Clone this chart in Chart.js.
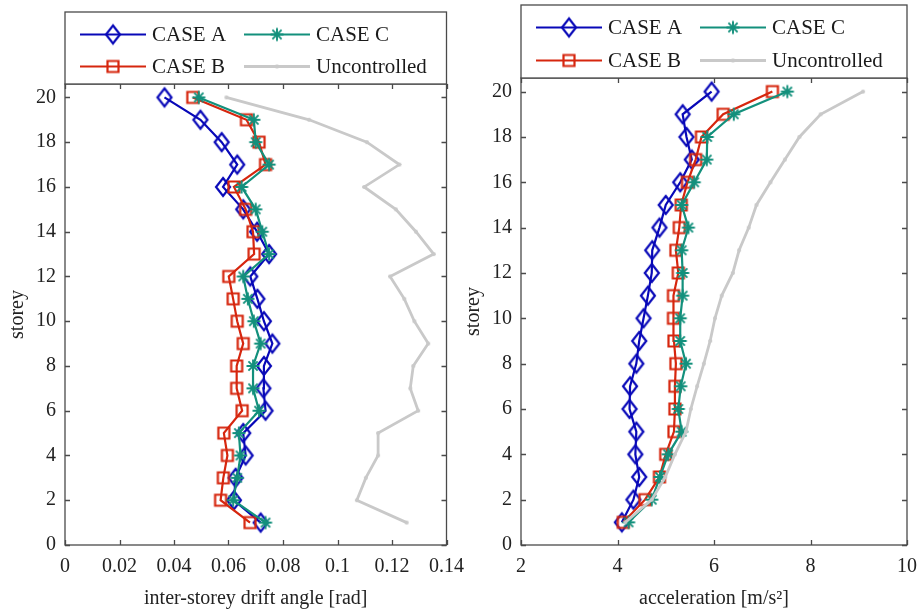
<!DOCTYPE html>
<html>
<head>
<meta charset="utf-8">
<title>Storey response profiles</title>
<script src="https://cdn.jsdelivr.net/npm/chart.js@4.4.1/dist/chart.umd.min.js"></script>
<style>
  html, body { margin: 0; padding: 0; background: #fff; }
  #wrap { position: relative; width: 919px; height: 611px; overflow: hidden; }
  canvas { position: absolute; top: 0; }
  #driftChart { left: 0; }
  #accChart { left: 460px; }
</style>
</head>
<body>
<div id="wrap">
  <canvas id="driftChart" width="474" height="611"></canvas>
  <canvas id="accChart" width="467" height="611"></canvas>
</div>
<script>
// storey numbers, bottom to top
const storeys = [1, 2, 3, 4, 5, 6, 7, 8, 9, 10, 11, 12, 13, 14, 15, 16, 17, 18, 19, 20];

// inter-storey drift angle [rad]
const driftA = [0.0718, 0.062, 0.0626, 0.0663, 0.0654, 0.0736, 0.0728, 0.073, 0.0761, 0.073,
                0.0706, 0.068, 0.0749, 0.0705, 0.0654, 0.058, 0.0632, 0.0575, 0.0497, 0.0365];
const driftB = [0.0679, 0.0571, 0.0581, 0.0596, 0.0583, 0.065, 0.063, 0.063, 0.0654, 0.0632,
                0.0617, 0.0601, 0.0694, 0.069, 0.0663, 0.062, 0.0736, 0.0712, 0.0666, 0.0469];
const driftC = [0.0736, 0.0617, 0.0632, 0.0644, 0.0638, 0.0712, 0.069, 0.069, 0.0718, 0.0693,
                0.0671, 0.0654, 0.0749, 0.0724, 0.070, 0.0648, 0.0749, 0.070, 0.0693, 0.0491];
const driftU = [0.1254, 0.1071, 0.1104, 0.1149, 0.1149, 0.1296, 0.1267, 0.1278, 0.1333, 0.1282,
                0.1245, 0.1193, 0.1353, 0.1288, 0.1214, 0.1098, 0.1227, 0.1108, 0.0896, 0.0592];

// floor acceleration [m/s2]
const accA = [4.09, 4.33, 4.45, 4.37, 4.39, 4.25, 4.26, 4.39, 4.45, 4.54,
              4.63, 4.71, 4.72, 4.87, 5.00, 5.30, 5.54, 5.43, 5.35, 5.95];
const accB = [4.12, 4.57, 4.87, 5.00, 5.17, 5.19, 5.19, 5.21, 5.17, 5.16,
              5.16, 5.26, 5.21, 5.28, 5.32, 5.45, 5.62, 5.74, 6.19, 7.21];
const accC = [4.23, 4.71, 4.88, 5.05, 5.33, 5.26, 5.31, 5.42, 5.30, 5.30,
              5.35, 5.35, 5.33, 5.47, 5.33, 5.59, 5.85, 5.86, 6.41, 7.52];
const accU = [4.16, 4.71, 4.99, 5.19, 5.42, 5.52, 5.65, 5.79, 5.92, 6.02,
              6.16, 6.39, 6.52, 6.72, 6.88, 7.17, 7.47, 7.77, 8.21, 9.09];

// tick labels
const storeyTicks = [0, 2, 4, 6, 8, 10, 12, 14, 16, 18, 20];
const driftTicks = [0, 0.02, 0.04, 0.06, 0.08, 0.1, 0.12, 0.14];
const accTicks = [2, 4, 6, 8, 10];

const seriesNames = ['CASE A', 'CASE B', 'CASE C', 'Uncontrolled'];
const seriesColors = ['#0808b8', '#d6260e', '#13907c', '#c9c9c9'];
const seriesMarkers = ['diamond', 'square', 'star', 'dot'];

const FONT = '"Liberation Serif", "Times New Roman", serif';
Chart.defaults.font.family = FONT;
Chart.defaults.color = '#222';

// small offscreen canvases used as point styles (and in the legend)
function makeMarker(kind, color) {
    const c = document.createElement('canvas');
    c.width = 24;
    c.height = 24;
    const g = c.getContext('2d');
    g.strokeStyle = color;
    g.fillStyle = color;
    g.lineWidth = 2.2;
    g.beginPath();
    if (kind === 'diamond') {
        g.moveTo(12, 3);
        g.lineTo(19, 12);
        g.lineTo(12, 21);
        g.lineTo(5, 12);
        g.closePath();
        g.stroke();
    } else if (kind === 'square') {
        g.rect(6.5, 6.5, 11, 11);
        g.stroke();
    } else if (kind === 'star') {
        g.lineWidth = 1.9;
        const r = 6.5, d = r * Math.SQRT1_2;
        g.moveTo(12, 12 - r); g.lineTo(12, 12 + r);
        g.moveTo(12 - r, 12); g.lineTo(12 + r, 12);
        g.moveTo(12 - d, 12 - d); g.lineTo(12 + d, 12 + d);
        g.moveTo(12 - d, 12 + d); g.lineTo(12 + d, 12 - d);
        g.stroke();
    } else {
        g.arc(12, 12, 2, 0, Math.PI * 2);
        g.fill();
    }
    return c;
}

const markers = seriesMarkers.map((m, i) => makeMarker(m, seriesColors[i]));

function makeDatasets(cols) {
    return cols.map((xs, i) => ({
        label: seriesNames[i],
        data: xs.map((x, k) => ({ x: x, y: storeys[k] })),
        borderColor: seriesColors[i],
        backgroundColor: seriesColors[i],
        borderWidth: i === 3 ? 2.8 : 2.2,
        pointStyle: markers[i],
        pointRadius: 6,
        showLine: true,
        fill: false,
        tension: 0,
        order: 3 - i
    }));
}

// box around the axes with inward tick marks on all four sides
const axesBox = {
    id: 'axesBox',
    afterDatasetsDraw(chart) {
        const { ctx, chartArea: a, scales } = chart;
        const len = 5;
        ctx.save();
        ctx.strokeStyle = '#4a4a4a';
        ctx.lineWidth = 1.3;
        ctx.strokeRect(a.left, a.top, a.right - a.left, a.bottom - a.top);
        ctx.beginPath();
        scales.x.ticks.forEach(t => {
            const px = Math.round(scales.x.getPixelForValue(t.value)) + 0.5;
            ctx.moveTo(px, a.bottom); ctx.lineTo(px, a.bottom - len);
            ctx.moveTo(px, a.top); ctx.lineTo(px, a.top + len);
        });
        scales.y.ticks.forEach(t => {
            const py = Math.round(scales.y.getPixelForValue(t.value)) + 0.5;
            ctx.moveTo(a.left, py); ctx.lineTo(a.left + len, py);
            ctx.moveTo(a.right, py); ctx.lineTo(a.right - len, py);
        });
        ctx.stroke();
        ctx.restore();
    },
    afterDraw(chart, args, opts) {
        // two-column legend box sitting on top of the axes
        const { ctx, chartArea: a } = chart;
        const top = opts.top;
        const h = a.top - top;
        ctx.save();
        ctx.fillStyle = '#fff';
        ctx.fillRect(a.left, top, a.right - a.left, h);
        ctx.strokeStyle = '#4a4a4a';
        ctx.lineWidth = 1.3;
        ctx.strokeRect(a.left, top, a.right - a.left, h);
        const cols = [15, 179];
        const rows = [top + h * 0.3, top + h * 0.75];
        const layout = [[0, 0, 0], [1, 0, 1], [2, 1, 0], [3, 1, 1]];
        ctx.font = '21px ' + FONT;
        ctx.textBaseline = 'middle';
        ctx.fillStyle = '#1a1a1a';
        layout.forEach(([i, c, r]) => {
            const x0 = a.left + cols[c];
            const y = Math.round(rows[r]) + 0.5;
            ctx.strokeStyle = seriesColors[i];
            ctx.lineWidth = i === 3 ? 2.8 : 2.2;
            ctx.beginPath();
            ctx.moveTo(x0, y);
            ctx.lineTo(x0 + 66, y);
            ctx.stroke();
            ctx.drawImage(markers[i], x0 + 33 - 12, y - 12);
            ctx.fillText(seriesNames[i], x0 + 72, y + 1);
        });
        ctx.restore();
    }
};

function fmt(v) {
    return String(Math.round(v * 1000) / 1000);
}

function makeChart(canvasId, cols, xMin, xMax, xTicks, xTitle, yAxisWidth, yTitlePad, pad, legendTop) {
    const ctx = document.getElementById(canvasId);
    return new Chart(ctx, {
        type: 'scatter',
        data: { datasets: makeDatasets(cols) },
        options: {
            responsive: false,
            animation: false,
            layout: { padding: pad },
            plugins: {
                legend: { display: false },
                tooltip: { enabled: false },
                axesBox: { top: legendTop }
            },
            scales: {
                x: {
                    type: 'linear',
                    min: xMin,
                    max: xMax,
                    afterBuildTicks: s => { s.ticks = xTicks.map(v => ({ value: v })); },
                    afterFit: s => { s.height = 66; },
                    ticks: {
                        callback: v => fmt(v),
                        padding: 10,
                        autoSkip: false,
                        maxRotation: 0,
                        color: '#222',
                        font: { size: 20 }
                    },
                    grid: { display: false, drawTicks: false },
                    border: { display: false },
                    title: {
                        display: true,
                        text: xTitle,
                        color: '#222',
                        padding: { top: 0, bottom: 0 },
                        font: { size: 20 }
                    }
                },
                y: {
                    type: 'linear',
                    min: 0,
                    max: 20.6,
                    afterBuildTicks: s => { s.ticks = storeyTicks.map(v => ({ value: v })); },
                    afterFit: s => { s.width = yAxisWidth; },
                    ticks: {
                        callback: v => fmt(v),
                        padding: 9,
                        color: '#222',
                        font: { size: 20 }
                    },
                    grid: { display: false, drawTicks: false },
                    border: { display: false },
                    title: {
                        display: true,
                        text: 'storey',
                        color: '#222',
                        padding: { top: yTitlePad, bottom: 0 },
                        font: { size: 20 }
                    }
                }
            }
        },
        plugins: [axesBox]
    });
}

makeChart('driftChart', [driftA, driftB, driftC, driftU], 0, 0.14, driftTicks,
    'inter-storey drift angle [rad]', 65, 6, { top: 84, right: 20, bottom: 0, left: 0 }, 12);

makeChart('accChart', [accA, accB, accC, accU], 2, 10, accTicks,
    'acceleration [m/s²]', 61, 2, { top: 78, right: 12, bottom: 0, left: 0 }, 5);
</script>
</body>
</html>
